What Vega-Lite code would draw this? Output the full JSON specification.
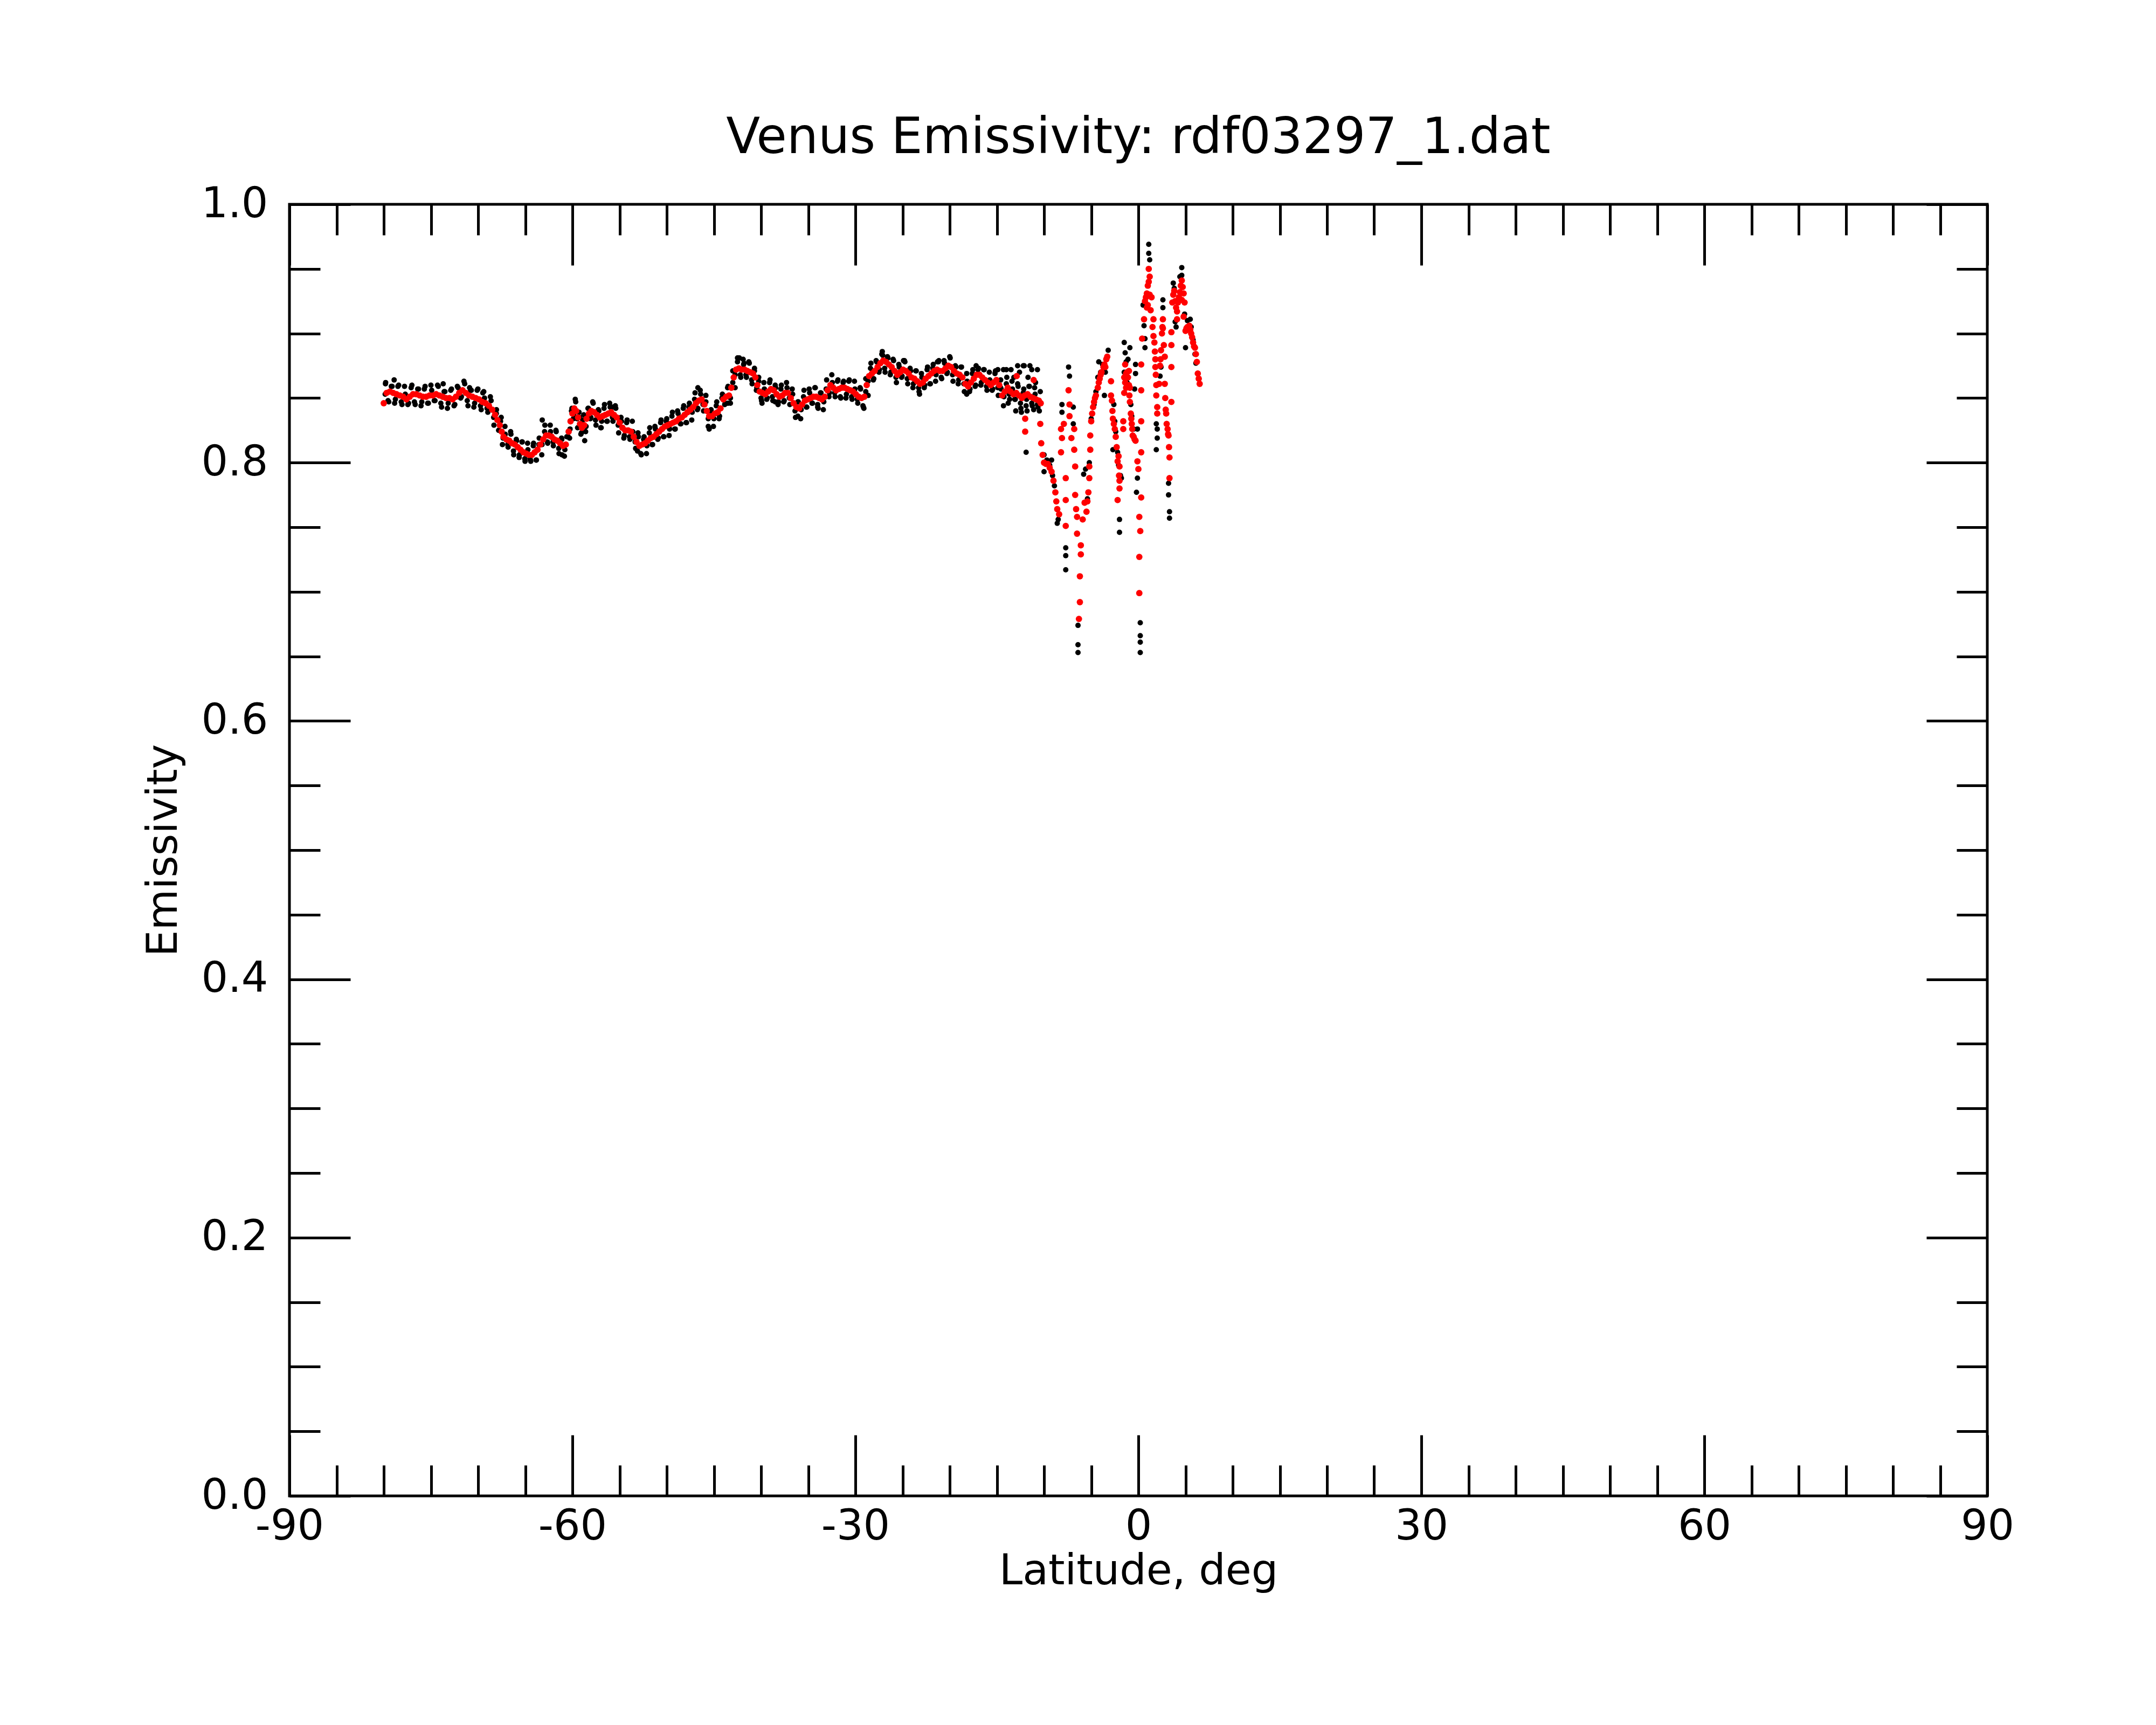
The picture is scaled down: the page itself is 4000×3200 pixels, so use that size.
{
  "$schema": "https://vega.github.io/schema/vega-lite/v6.json",
  "autosize": {"type": "none"},
  "padding": {"left": 537, "top": 379, "right": 313, "bottom": 425},
  "width": 3150,
  "height": 2396,
  "background": "white",
  "title": {
    "text": "Venus Emissivity: rdf03297_1.dat",
    "font": "DejaVu Sans",
    "fontSize": 92,
    "fontWeight": "normal",
    "color": "black",
    "anchor": "middle",
    "baseline": "alphabetic",
    "offset": -36
  },
  "config": {
    "view": {"stroke": "black", "strokeWidth": 5},
    "axis": {"grid": false, "domain": false, "tickColor": "black", "tickWidth": 5, "labelColor": "black", "titleColor": "black"}
  },
  "datasets": {
    "raw": [
      {"lat": -79.85, "em": 0.853}, {"lat": -79.55, "em": 0.848}, {"lat": -79.2, "em": 0.859}, {"lat": -78.85, "em": 0.846},
      {"lat": -78.5, "em": 0.859}, {"lat": -78.15, "em": 0.847}, {"lat": -77.8, "em": 0.859}, {"lat": -77.45, "em": 0.845},
      {"lat": -77.1, "em": 0.858}, {"lat": -76.75, "em": 0.847}, {"lat": -76.4, "em": 0.857}, {"lat": -76.05, "em": 0.844},
      {"lat": -75.7, "em": 0.857}, {"lat": -75.35, "em": 0.846}, {"lat": -75.0, "em": 0.86}, {"lat": -74.65, "em": 0.848},
      {"lat": -74.3, "em": 0.86}, {"lat": -73.95, "em": 0.846}, {"lat": -73.6, "em": 0.855}, {"lat": -73.25, "em": 0.842},
      {"lat": -72.9, "em": 0.856}, {"lat": -72.55, "em": 0.844}, {"lat": -72.2, "em": 0.859}, {"lat": -71.85, "em": 0.85},
      {"lat": -71.5, "em": 0.863}, {"lat": -71.15, "em": 0.848}, {"lat": -70.8, "em": 0.856}, {"lat": -70.45, "em": 0.843},
      {"lat": -70.1, "em": 0.856}, {"lat": -69.75, "em": 0.844}, {"lat": -69.4, "em": 0.855}, {"lat": -69.05, "em": 0.842},
      {"lat": -68.7, "em": 0.851}, {"lat": -68.35, "em": 0.835}, {"lat": -68.05, "em": 0.841}, {"lat": -67.8, "em": 0.825},
      {"lat": -67.55, "em": 0.835}, {"lat": -67.35, "em": 0.819}, {"lat": -67.15, "em": 0.828}, {"lat": -66.85, "em": 0.814},
      {"lat": -66.55, "em": 0.824}, {"lat": -66.25, "em": 0.809}, {"lat": -65.95, "em": 0.818}, {"lat": -65.65, "em": 0.804},
      {"lat": -65.35, "em": 0.816}, {"lat": -65.05, "em": 0.803}, {"lat": -64.75, "em": 0.815}, {"lat": -64.45, "em": 0.802},
      {"lat": -64.15, "em": 0.813}, {"lat": -63.85, "em": 0.802}, {"lat": -63.55, "em": 0.814}, {"lat": -63.25, "em": 0.806},
      {"lat": -62.95, "em": 0.824}, {"lat": -62.65, "em": 0.816}, {"lat": -62.35, "em": 0.829}, {"lat": -62.05, "em": 0.816},
      {"lat": -61.75, "em": 0.825}, {"lat": -61.45, "em": 0.811}, {"lat": -61.15, "em": 0.819}, {"lat": -60.85, "em": 0.805},
      {"lat": -60.6, "em": 0.82}, {"lat": -60.3, "em": 0.819}, {"lat": -60.1, "em": 0.84}, {"lat": -59.9, "em": 0.834},
      {"lat": -59.7, "em": 0.849}, {"lat": -59.5, "em": 0.834}, {"lat": -59.3, "em": 0.839}, {"lat": -59.1, "em": 0.822},
      {"lat": -58.9, "em": 0.833}, {"lat": -58.6, "em": 0.824}, {"lat": -58.35, "em": 0.842}, {"lat": -58.1, "em": 0.834},
      {"lat": -57.85, "em": 0.847}, {"lat": -57.55, "em": 0.833}, {"lat": -57.25, "em": 0.841}, {"lat": -56.95, "em": 0.827},
      {"lat": -56.65, "em": 0.842}, {"lat": -56.35, "em": 0.832}, {"lat": -56.05, "em": 0.846}, {"lat": -55.75, "em": 0.835},
      {"lat": -55.45, "em": 0.844}, {"lat": -55.15, "em": 0.829}, {"lat": -54.85, "em": 0.835}, {"lat": -54.55, "em": 0.819},
      {"lat": -54.25, "em": 0.831}, {"lat": -53.95, "em": 0.82}, {"lat": -53.65, "em": 0.832}, {"lat": -53.35, "em": 0.816},
      {"lat": -53.05, "em": 0.823}, {"lat": -52.75, "em": 0.807}, {"lat": -52.45, "em": 0.818}, {"lat": -52.15, "em": 0.807},
      {"lat": -51.85, "em": 0.823}, {"lat": -51.55, "em": 0.814}, {"lat": -51.25, "em": 0.828}, {"lat": -50.95, "em": 0.818},
      {"lat": -50.65, "em": 0.831}, {"lat": -50.35, "em": 0.82}, {"lat": -50.05, "em": 0.832}, {"lat": -49.75, "em": 0.821},
      {"lat": -49.45, "em": 0.836}, {"lat": -49.15, "em": 0.826}, {"lat": -48.85, "em": 0.84}, {"lat": -48.55, "em": 0.83},
      {"lat": -48.25, "em": 0.842}, {"lat": -47.95, "em": 0.831}, {"lat": -47.65, "em": 0.843}, {"lat": -47.35, "em": 0.833},
      {"lat": -47.05, "em": 0.849}, {"lat": -46.75, "em": 0.841}, {"lat": -46.45, "em": 0.856}, {"lat": -46.15, "em": 0.845},
      {"lat": -45.85, "em": 0.852}, {"lat": -45.6, "em": 0.834}, {"lat": -45.35, "em": 0.84}, {"lat": -45.05, "em": 0.828},
      {"lat": -44.75, "em": 0.844}, {"lat": -44.45, "em": 0.834}, {"lat": -44.15, "em": 0.85}, {"lat": -43.85, "em": 0.845},
      {"lat": -43.55, "em": 0.858}, {"lat": -43.25, "em": 0.846}, {"lat": -43.0, "em": 0.862}, {"lat": -42.75, "em": 0.858},
      {"lat": -42.5, "em": 0.878}, {"lat": -42.2, "em": 0.868}, {"lat": -41.9, "em": 0.88}, {"lat": -41.6, "em": 0.868},
      {"lat": -41.3, "em": 0.878}, {"lat": -41.0, "em": 0.864}, {"lat": -40.7, "em": 0.873}, {"lat": -40.45, "em": 0.858},
      {"lat": -40.25, "em": 0.866}, {"lat": -40.0, "em": 0.85}, {"lat": -39.7, "em": 0.862}, {"lat": -39.4, "em": 0.849},
      {"lat": -39.1, "em": 0.862}, {"lat": -38.8, "em": 0.851}, {"lat": -38.5, "em": 0.86}, {"lat": -38.2, "em": 0.845},
      {"lat": -37.9, "em": 0.857}, {"lat": -37.6, "em": 0.847}, {"lat": -37.3, "em": 0.862}, {"lat": -37.0, "em": 0.85},
      {"lat": -36.7, "em": 0.857}, {"lat": -36.4, "em": 0.84}, {"lat": -36.1, "em": 0.847}, {"lat": -35.8, "em": 0.834},
      {"lat": -35.5, "em": 0.851}, {"lat": -35.2, "em": 0.843}, {"lat": -34.9, "em": 0.857}, {"lat": -34.6, "em": 0.846},
      {"lat": -34.3, "em": 0.858}, {"lat": -34.0, "em": 0.845}, {"lat": -33.7, "em": 0.854}, {"lat": -33.4, "em": 0.841},
      {"lat": -33.1, "em": 0.857}, {"lat": -32.8, "em": 0.851}, {"lat": -32.5, "em": 0.868}, {"lat": -32.2, "em": 0.854},
      {"lat": -31.9, "em": 0.863}, {"lat": -31.6, "em": 0.851}, {"lat": -31.3, "em": 0.862}, {"lat": -31.0, "em": 0.85},
      {"lat": -30.7, "em": 0.863}, {"lat": -30.4, "em": 0.851}, {"lat": -30.1, "em": 0.863}, {"lat": -29.8, "em": 0.849},
      {"lat": -29.5, "em": 0.858}, {"lat": -29.2, "em": 0.844}, {"lat": -28.9, "em": 0.855}, {"lat": -28.65, "em": 0.852},
      {"lat": -28.4, "em": 0.873}, {"lat": -28.1, "em": 0.864}, {"lat": -27.8, "em": 0.879}, {"lat": -27.5, "em": 0.87},
      {"lat": -27.2, "em": 0.884}, {"lat": -26.9, "em": 0.873}, {"lat": -26.6, "em": 0.882}, {"lat": -26.3, "em": 0.868},
      {"lat": -26.0, "em": 0.88}, {"lat": -25.7, "em": 0.866}, {"lat": -25.4, "em": 0.876}, {"lat": -25.1, "em": 0.866},
      {"lat": -24.8, "em": 0.879}, {"lat": -24.5, "em": 0.865}, {"lat": -24.2, "em": 0.873}, {"lat": -23.9, "em": 0.858},
      {"lat": -23.6, "em": 0.871}, {"lat": -23.3, "em": 0.858}, {"lat": -23.0, "em": 0.869}, {"lat": -22.7, "em": 0.858},
      {"lat": -22.4, "em": 0.872}, {"lat": -22.1, "em": 0.861}, {"lat": -21.8, "em": 0.873}, {"lat": -21.5, "em": 0.863},
      {"lat": -21.2, "em": 0.878}, {"lat": -20.9, "em": 0.866}, {"lat": -20.6, "em": 0.879}, {"lat": -20.3, "em": 0.869},
      {"lat": -20.0, "em": 0.882}, {"lat": -19.7, "em": 0.868}, {"lat": -19.4, "em": 0.875}, {"lat": -19.1, "em": 0.861},
      {"lat": -18.8, "em": 0.874}, {"lat": -18.5, "em": 0.861}, {"lat": -18.2, "em": 0.869}, {"lat": -17.9, "em": 0.855},
      {"lat": -17.6, "em": 0.869}, {"lat": -17.3, "em": 0.859}, {"lat": -17.0, "em": 0.872}, {"lat": -16.7, "em": 0.86},
      {"lat": -16.4, "em": 0.872}, {"lat": -16.1, "em": 0.859}, {"lat": -15.8, "em": 0.87}, {"lat": -15.5, "em": 0.856},
      {"lat": -15.2, "em": 0.869}, {"lat": -14.9, "em": 0.858}, {"lat": -14.6, "em": 0.864}, {"lat": -14.3, "em": 0.844},
      {"lat": -14.0, "em": 0.861}, {"lat": -13.7, "em": 0.853}, {"lat": -13.4, "em": 0.863}, {"lat": -13.1, "em": 0.849},
      {"lat": -12.8, "em": 0.861}, {"lat": -12.5, "em": 0.846}, {"lat": -12.2, "em": 0.854}, {"lat": -11.9, "em": 0.844},
      {"lat": -11.6, "em": 0.859}, {"lat": -11.3, "em": 0.846}, {"lat": -11.0, "em": 0.858}, {"lat": -10.7, "em": 0.845},
      {"lat": -10.4, "em": 0.855},
      {"lat": -79.82, "em": 0.861}, {"lat": -79.47, "em": 0.847}, {"lat": -79.12, "em": 0.859}, {"lat": -78.77, "em": 0.849},
      {"lat": -78.42, "em": 0.86}, {"lat": -78.07, "em": 0.845}, {"lat": -77.72, "em": 0.853}, {"lat": -77.37, "em": 0.846},
      {"lat": -77.02, "em": 0.86}, {"lat": -76.67, "em": 0.845}, {"lat": -76.32, "em": 0.857}, {"lat": -75.97, "em": 0.847},
      {"lat": -75.62, "em": 0.859}, {"lat": -75.27, "em": 0.846}, {"lat": -74.92, "em": 0.856}, {"lat": -74.57, "em": 0.848},
      {"lat": -74.22, "em": 0.859}, {"lat": -73.87, "em": 0.843}, {"lat": -73.52, "em": 0.855}, {"lat": -73.17, "em": 0.846},
      {"lat": -72.82, "em": 0.857}, {"lat": -72.47, "em": 0.845}, {"lat": -72.12, "em": 0.858}, {"lat": -71.77, "em": 0.851},
      {"lat": -71.42, "em": 0.861}, {"lat": -71.07, "em": 0.844}, {"lat": -70.72, "em": 0.856}, {"lat": -70.37, "em": 0.846},
      {"lat": -70.02, "em": 0.857}, {"lat": -69.67, "em": 0.841}, {"lat": -69.32, "em": 0.85}, {"lat": -68.97, "em": 0.839},
      {"lat": -68.62, "em": 0.848}, {"lat": -68.32, "em": 0.829}, {"lat": -68.07, "em": 0.838}, {"lat": -67.82, "em": 0.825},
      {"lat": -67.62, "em": 0.832}, {"lat": -67.42, "em": 0.814}, {"lat": -67.12, "em": 0.822}, {"lat": -66.82, "em": 0.812},
      {"lat": -66.52, "em": 0.822}, {"lat": -66.22, "em": 0.806}, {"lat": -65.92, "em": 0.817}, {"lat": -65.62, "em": 0.806},
      {"lat": -65.32, "em": 0.816}, {"lat": -65.02, "em": 0.801}, {"lat": -64.72, "em": 0.81}, {"lat": -64.42, "em": 0.801},
      {"lat": -64.12, "em": 0.815}, {"lat": -63.82, "em": 0.802}, {"lat": -63.52, "em": 0.819}, {"lat": -63.22, "em": 0.814},
      {"lat": -62.92, "em": 0.829}, {"lat": -62.62, "em": 0.815}, {"lat": -62.32, "em": 0.824}, {"lat": -62.02, "em": 0.813},
      {"lat": -61.72, "em": 0.824}, {"lat": -61.42, "em": 0.807}, {"lat": -61.12, "em": 0.818}, {"lat": -60.8, "em": 0.81},
      {"lat": -60.45, "em": 0.82}, {"lat": -60.25, "em": 0.826}, {"lat": -60.05, "em": 0.842}, {"lat": -59.85, "em": 0.837},
      {"lat": -59.65, "em": 0.847}, {"lat": -59.45, "em": 0.827}, {"lat": -59.25, "em": 0.835}, {"lat": -59.05, "em": 0.823},
      {"lat": -58.8, "em": 0.837}, {"lat": -58.55, "em": 0.828}, {"lat": -58.3, "em": 0.842}, {"lat": -58.05, "em": 0.835},
      {"lat": -57.8, "em": 0.846}, {"lat": -57.5, "em": 0.829}, {"lat": -57.2, "em": 0.84}, {"lat": -56.9, "em": 0.832},
      {"lat": -56.6, "em": 0.845}, {"lat": -56.3, "em": 0.832}, {"lat": -56.0, "em": 0.843}, {"lat": -55.7, "em": 0.832},
      {"lat": -55.4, "em": 0.842}, {"lat": -55.1, "em": 0.823}, {"lat": -54.8, "em": 0.832}, {"lat": -54.5, "em": 0.821},
      {"lat": -54.2, "em": 0.833}, {"lat": -53.9, "em": 0.818}, {"lat": -53.6, "em": 0.824}, {"lat": -53.3, "em": 0.811},
      {"lat": -53.0, "em": 0.82}, {"lat": -52.7, "em": 0.806}, {"lat": -52.4, "em": 0.82}, {"lat": -52.1, "em": 0.813},
      {"lat": -51.8, "em": 0.827}, {"lat": -51.5, "em": 0.814}, {"lat": -51.2, "em": 0.826}, {"lat": -50.9, "em": 0.819},
      {"lat": -50.6, "em": 0.833}, {"lat": -50.3, "em": 0.82}, {"lat": -50.0, "em": 0.834}, {"lat": -49.7, "em": 0.826},
      {"lat": -49.4, "em": 0.839}, {"lat": -49.1, "em": 0.826}, {"lat": -48.8, "em": 0.838}, {"lat": -48.5, "em": 0.83},
      {"lat": -48.2, "em": 0.844}, {"lat": -47.9, "em": 0.831}, {"lat": -47.6, "em": 0.846}, {"lat": -47.3, "em": 0.839},
      {"lat": -47.0, "em": 0.854}, {"lat": -46.7, "em": 0.842}, {"lat": -46.4, "em": 0.853}, {"lat": -46.1, "em": 0.84},
      {"lat": -45.85, "em": 0.847}, {"lat": -45.6, "em": 0.828}, {"lat": -45.3, "em": 0.841}, {"lat": -45.0, "em": 0.834},
      {"lat": -44.7, "em": 0.847}, {"lat": -44.4, "em": 0.836}, {"lat": -44.1, "em": 0.853}, {"lat": -43.8, "em": 0.846},
      {"lat": -43.5, "em": 0.859}, {"lat": -43.25, "em": 0.85}, {"lat": -43.0, "em": 0.871}, {"lat": -42.75, "em": 0.868},
      {"lat": -42.45, "em": 0.881}, {"lat": -42.15, "em": 0.866}, {"lat": -41.85, "em": 0.876}, {"lat": -41.55, "em": 0.866},
      {"lat": -41.25, "em": 0.877}, {"lat": -40.95, "em": 0.861}, {"lat": -40.7, "em": 0.871}, {"lat": -40.5, "em": 0.856},
      {"lat": -40.25, "em": 0.863}, {"lat": -39.95, "em": 0.848}, {"lat": -39.65, "em": 0.857}, {"lat": -39.35, "em": 0.85},
      {"lat": -39.05, "em": 0.864}, {"lat": -38.75, "em": 0.848}, {"lat": -38.45, "em": 0.858}, {"lat": -38.15, "em": 0.847},
      {"lat": -37.85, "em": 0.86}, {"lat": -37.55, "em": 0.848}, {"lat": -37.25, "em": 0.858}, {"lat": -36.95, "em": 0.845},
      {"lat": -36.65, "em": 0.853}, {"lat": -36.35, "em": 0.835}, {"lat": -36.05, "em": 0.847}, {"lat": -35.75, "em": 0.841},
      {"lat": -35.45, "em": 0.856}, {"lat": -35.15, "em": 0.843}, {"lat": -34.85, "em": 0.854}, {"lat": -34.55, "em": 0.846},
      {"lat": -34.25, "em": 0.858}, {"lat": -33.95, "em": 0.842}, {"lat": -33.65, "em": 0.854}, {"lat": -33.35, "em": 0.847},
      {"lat": -33.05, "em": 0.864}, {"lat": -32.75, "em": 0.854}, {"lat": -32.45, "em": 0.862}, {"lat": -32.15, "em": 0.851},
      {"lat": -31.85, "em": 0.864}, {"lat": -31.55, "em": 0.85}, {"lat": -31.25, "em": 0.863}, {"lat": -30.95, "em": 0.853},
      {"lat": -30.65, "em": 0.864}, {"lat": -30.35, "em": 0.849}, {"lat": -30.05, "em": 0.857}, {"lat": -29.75, "em": 0.846},
      {"lat": -29.45, "em": 0.857}, {"lat": -29.15, "em": 0.843}, {"lat": -28.9, "em": 0.865}, {"lat": -28.65, "em": 0.863},
      {"lat": -28.35, "em": 0.877}, {"lat": -28.05, "em": 0.865}, {"lat": -27.75, "em": 0.878}, {"lat": -27.45, "em": 0.872},
      {"lat": -27.15, "em": 0.886}, {"lat": -26.85, "em": 0.87}, {"lat": -26.55, "em": 0.881}, {"lat": -26.25, "em": 0.87},
      {"lat": -25.95, "em": 0.879}, {"lat": -25.65, "em": 0.862}, {"lat": -25.35, "em": 0.874}, {"lat": -25.05, "em": 0.867},
      {"lat": -24.75, "em": 0.878}, {"lat": -24.45, "em": 0.861}, {"lat": -24.15, "em": 0.871}, {"lat": -23.85, "em": 0.861},
      {"lat": -23.55, "em": 0.871}, {"lat": -23.25, "em": 0.855}, {"lat": -22.95, "em": 0.866}, {"lat": -22.65, "em": 0.86},
      {"lat": -22.35, "em": 0.874}, {"lat": -22.05, "em": 0.861}, {"lat": -21.75, "em": 0.876}, {"lat": -21.45, "em": 0.868},
      {"lat": -21.15, "em": 0.879}, {"lat": -20.85, "em": 0.865}, {"lat": -20.55, "em": 0.877}, {"lat": -20.25, "em": 0.87},
      {"lat": -19.95, "em": 0.881}, {"lat": -19.65, "em": 0.863}, {"lat": -19.35, "em": 0.874}, {"lat": -19.05, "em": 0.864},
      {"lat": -18.75, "em": 0.874}, {"lat": -18.45, "em": 0.855}, {"lat": -18.15, "em": 0.863}, {"lat": -17.85, "em": 0.857},
      {"lat": -17.55, "em": 0.872}, {"lat": -17.25, "em": 0.86}, {"lat": -16.95, "em": 0.873}, {"lat": -16.65, "em": 0.862},
      {"lat": -16.35, "em": 0.872}, {"lat": -16.05, "em": 0.856}, {"lat": -15.75, "em": 0.864}, {"lat": -15.45, "em": 0.857},
      {"lat": -15.15, "em": 0.871}, {"lat": -14.85, "em": 0.852}, {"lat": -14.55, "em": 0.857}, {"lat": -14.25, "em": 0.851},
      {"lat": -13.95, "em": 0.866}, {"lat": -13.65, "em": 0.849}, {"lat": -13.35, "em": 0.857}, {"lat": -13.05, "em": 0.849},
      {"lat": -12.75, "em": 0.859}, {"lat": -12.45, "em": 0.842}, {"lat": -12.15, "em": 0.857}, {"lat": -11.85, "em": 0.849},
      {"lat": -11.55, "em": 0.859}, {"lat": -11.25, "em": 0.844}, {"lat": -10.95, "em": 0.853}, {"lat": -10.65, "em": 0.843},
      {"lat": -79.8, "em": 0.862}, {"lat": -78.9, "em": 0.864}, {"lat": -73.7, "em": 0.861}, {"lat": -70.9, "em": 0.858},
      {"lat": -69.5, "em": 0.854}, {"lat": -63.2, "em": 0.833}, {"lat": -64.5, "em": 0.803}, {"lat": -61.1, "em": 0.806},
      {"lat": -58.7, "em": 0.817}, {"lat": -57.0, "em": 0.827}, {"lat": -55.8, "em": 0.843}, {"lat": -53.1, "em": 0.809},
      {"lat": -46.7, "em": 0.858}, {"lat": -45.5, "em": 0.826}, {"lat": -42.5, "em": 0.881}, {"lat": -43.5, "em": 0.846},
      {"lat": -42.3, "em": 0.881}, {"lat": -41.8, "em": 0.877}, {"lat": -39.9, "em": 0.846}, {"lat": -38.5, "em": 0.847},
      {"lat": -36.1, "em": 0.836}, {"lat": -34.0, "em": 0.843}, {"lat": -29.1, "em": 0.842}, {"lat": -27.1, "em": 0.883},
      {"lat": -24.9, "em": 0.879}, {"lat": -23.2, "em": 0.853}, {"lat": -21.3, "em": 0.878}, {"lat": -18.2, "em": 0.853},
      {"lat": -17.2, "em": 0.875}, {"lat": -14.9, "em": 0.872}, {"lat": -14.0, "em": 0.872}, {"lat": -13.0, "em": 0.84},
      {"lat": -11.8, "em": 0.84}, {"lat": -12.8, "em": 0.875}, {"lat": -12.1, "em": 0.875}, {"lat": -11.3, "em": 0.872},
      {"lat": -14.3, "em": 0.872}, {"lat": -13.5, "em": 0.872}, {"lat": -12.2, "em": 0.875}, {"lat": -11.5, "em": 0.875},
      {"lat": -10.7, "em": 0.872}, {"lat": -12.4, "em": 0.839}, {"lat": -11.9, "em": 0.808}, {"lat": -11.1, "em": 0.841},
      {"lat": -14.6, "em": 0.858}, {"lat": -13.8, "em": 0.846}, {"lat": -13.2, "em": 0.866}, {"lat": -12.6, "em": 0.87},
      {"lat": -11.7, "em": 0.866}, {"lat": -10.9, "em": 0.862}, {"lat": -10.5, "em": 0.84},
      {"lat": -10.0, "em": 0.793}, {"lat": -9.2, "em": 0.802}, {"lat": -8.6, "em": 0.753}, {"lat": -8.1, "em": 0.845},
      {"lat": -8.1, "em": 0.839}, {"lat": -7.7, "em": 0.734}, {"lat": -7.7, "em": 0.728}, {"lat": -7.7, "em": 0.717},
      {"lat": -7.4, "em": 0.874}, {"lat": -7.3, "em": 0.867}, {"lat": -6.9, "em": 0.843}, {"lat": -6.9, "em": 0.83},
      {"lat": -6.4, "em": 0.674}, {"lat": -6.4, "em": 0.659}, {"lat": -6.4, "em": 0.653}, {"lat": -5.6, "em": 0.795},
      {"lat": -5.8, "em": 0.791}, {"lat": -5.5, "em": 0.762}, {"lat": -4.2, "em": 0.878}, {"lat": -3.6, "em": 0.852},
      {"lat": -3.2, "em": 0.887}, {"lat": -2.6, "em": 0.845}, {"lat": -2.7, "em": 0.81}, {"lat": -1.8, "em": 0.788},
      {"lat": -2.0, "em": 0.756}, {"lat": -2.0, "em": 0.746}, {"lat": -1.5, "em": 0.893}, {"lat": -0.9, "em": 0.889},
      {"lat": -0.3, "em": 0.876}, {"lat": -0.3, "em": 0.869}, {"lat": -0.4, "em": 0.857}, {"lat": -0.1, "em": 0.826},
      {"lat": -0.1, "em": 0.788}, {"lat": -0.2, "em": 0.777}, {"lat": 0.2, "em": 0.676}, {"lat": 0.2, "em": 0.666},
      {"lat": 0.2, "em": 0.661}, {"lat": 0.2, "em": 0.653}, {"lat": 1.1, "em": 0.969}, {"lat": 1.1, "em": 0.962},
      {"lat": 1.2, "em": 0.957}, {"lat": 0.5, "em": 0.922}, {"lat": 0.6, "em": 0.906}, {"lat": 0.7, "em": 0.896},
      {"lat": 0.7, "em": 0.889}, {"lat": 1.9, "em": 0.83}, {"lat": 2.0, "em": 0.826}, {"lat": 2.0, "em": 0.819},
      {"lat": 1.9, "em": 0.81}, {"lat": 2.4, "em": 0.874}, {"lat": 2.3, "em": 0.867}, {"lat": 2.6, "em": 0.926},
      {"lat": 2.6, "em": 0.92}, {"lat": 3.7, "em": 0.939}, {"lat": 3.9, "em": 0.909}, {"lat": 3.2, "em": 0.784},
      {"lat": 3.2, "em": 0.775}, {"lat": 3.3, "em": 0.762}, {"lat": 3.3, "em": 0.757}, {"lat": 4.6, "em": 0.951},
      {"lat": 5.0, "em": 0.889}, {"lat": 5.5, "em": 0.911},
      {"lat": -10.0, "em": 0.806}, {"lat": -9.7, "em": 0.802}, {"lat": -9.4, "em": 0.798}, {"lat": -9.1, "em": 0.79},
      {"lat": -8.9, "em": 0.782}, {"lat": -8.7, "em": 0.77}, {"lat": -8.5, "em": 0.756},
      {"lat": -5.4, "em": 0.772}, {"lat": -5.2, "em": 0.8}, {"lat": -5.0, "em": 0.834}, {"lat": -4.7, "em": 0.845},
      {"lat": -4.5, "em": 0.855}, {"lat": -4.3, "em": 0.866}, {"lat": -4.0, "em": 0.87}, {"lat": -3.8, "em": 0.876},
      {"lat": -3.5, "em": 0.87}, {"lat": -2.5, "em": 0.832}, {"lat": -2.4, "em": 0.824}, {"lat": -2.2, "em": 0.808},
      {"lat": -2.1, "em": 0.798}, {"lat": -1.9, "em": 0.79}, {"lat": -1.4, "em": 0.885}, {"lat": -1.3, "em": 0.878},
      {"lat": -1.1, "em": 0.88}, {"lat": -1.5, "em": 0.87}, {"lat": -1.2, "em": 0.862}, {"lat": -0.8, "em": 0.845},
      {"lat": -0.7, "em": 0.836}, {"lat": -0.5, "em": 0.826}, {"lat": 3.8, "em": 0.935}, {"lat": 4.0, "em": 0.905},
      {"lat": 4.4, "em": 0.944}, {"lat": 4.6, "em": 0.945}, {"lat": 4.9, "em": 0.915}, {"lat": 5.2, "em": 0.91},
      {"lat": 5.6, "em": 0.905}, {"lat": 5.8, "em": 0.895}, {"lat": 6.0, "em": 0.884}, {"lat": 6.1, "em": 0.877}
    ],
    "smooth": [
      {"lat": -80.0, "em": 0.846}, {"lat": -79.7, "em": 0.854}, {"lat": -79.35, "em": 0.855}, {"lat": -79.0, "em": 0.854},
      {"lat": -78.65, "em": 0.853}, {"lat": -78.3, "em": 0.852}, {"lat": -77.95, "em": 0.851}, {"lat": -77.6, "em": 0.849},
      {"lat": -77.25, "em": 0.851}, {"lat": -76.9, "em": 0.853}, {"lat": -76.55, "em": 0.853}, {"lat": -76.2, "em": 0.852},
      {"lat": -75.85, "em": 0.851}, {"lat": -75.5, "em": 0.851}, {"lat": -75.15, "em": 0.852}, {"lat": -74.8, "em": 0.852},
      {"lat": -74.45, "em": 0.853}, {"lat": -74.1, "em": 0.852}, {"lat": -73.75, "em": 0.851}, {"lat": -73.4, "em": 0.85},
      {"lat": -73.05, "em": 0.85}, {"lat": -72.7, "em": 0.849}, {"lat": -72.35, "em": 0.851}, {"lat": -72.0, "em": 0.854},
      {"lat": -71.65, "em": 0.856}, {"lat": -71.3, "em": 0.854}, {"lat": -70.95, "em": 0.852}, {"lat": -70.6, "em": 0.851},
      {"lat": -70.25, "em": 0.85}, {"lat": -69.9, "em": 0.849}, {"lat": -69.55, "em": 0.847}, {"lat": -69.2, "em": 0.846},
      {"lat": -68.85, "em": 0.844}, {"lat": -68.5, "em": 0.841}, {"lat": -68.2, "em": 0.837}, {"lat": -67.95, "em": 0.833},
      {"lat": -67.7, "em": 0.829}, {"lat": -67.5, "em": 0.824}, {"lat": -67.3, "em": 0.82}, {"lat": -67.0, "em": 0.818},
      {"lat": -66.7, "em": 0.817}, {"lat": -66.4, "em": 0.815}, {"lat": -66.1, "em": 0.814}, {"lat": -65.8, "em": 0.812},
      {"lat": -65.5, "em": 0.81}, {"lat": -65.2, "em": 0.808}, {"lat": -64.9, "em": 0.807}, {"lat": -64.6, "em": 0.806},
      {"lat": -64.3, "em": 0.806}, {"lat": -64.0, "em": 0.808}, {"lat": -63.7, "em": 0.81}, {"lat": -63.4, "em": 0.814},
      {"lat": -63.1, "em": 0.818}, {"lat": -62.8, "em": 0.821}, {"lat": -62.5, "em": 0.821}, {"lat": -62.2, "em": 0.82},
      {"lat": -61.9, "em": 0.818}, {"lat": -61.6, "em": 0.817}, {"lat": -61.3, "em": 0.815}, {"lat": -61.0, "em": 0.813},
      {"lat": -60.7, "em": 0.814}, {"lat": -60.4, "em": 0.824}, {"lat": -60.2, "em": 0.832}, {"lat": -60.0, "em": 0.838},
      {"lat": -59.8, "em": 0.842}, {"lat": -59.6, "em": 0.84}, {"lat": -59.4, "em": 0.835}, {"lat": -59.2, "em": 0.83},
      {"lat": -59.0, "em": 0.827}, {"lat": -58.75, "em": 0.829}, {"lat": -58.5, "em": 0.834}, {"lat": -58.25, "em": 0.838},
      {"lat": -58.0, "em": 0.84}, {"lat": -57.7, "em": 0.839}, {"lat": -57.4, "em": 0.837}, {"lat": -57.1, "em": 0.835},
      {"lat": -56.8, "em": 0.836}, {"lat": -56.5, "em": 0.837}, {"lat": -56.2, "em": 0.838}, {"lat": -55.9, "em": 0.839},
      {"lat": -55.6, "em": 0.837}, {"lat": -55.3, "em": 0.835}, {"lat": -55.0, "em": 0.831}, {"lat": -54.7, "em": 0.827},
      {"lat": -54.4, "em": 0.825}, {"lat": -54.1, "em": 0.825}, {"lat": -53.8, "em": 0.824}, {"lat": -53.5, "em": 0.82},
      {"lat": -53.2, "em": 0.816}, {"lat": -52.9, "em": 0.813}, {"lat": -52.6, "em": 0.814}, {"lat": -52.3, "em": 0.815},
      {"lat": -52.0, "em": 0.817}, {"lat": -51.7, "em": 0.819}, {"lat": -51.4, "em": 0.82}, {"lat": -51.1, "em": 0.822},
      {"lat": -50.8, "em": 0.824}, {"lat": -50.5, "em": 0.826}, {"lat": -50.2, "em": 0.828}, {"lat": -49.9, "em": 0.829},
      {"lat": -49.6, "em": 0.83}, {"lat": -49.3, "em": 0.831}, {"lat": -49.0, "em": 0.832}, {"lat": -48.7, "em": 0.834},
      {"lat": -48.4, "em": 0.835}, {"lat": -48.1, "em": 0.837}, {"lat": -47.8, "em": 0.839}, {"lat": -47.5, "em": 0.841},
      {"lat": -47.2, "em": 0.843}, {"lat": -46.9, "em": 0.846}, {"lat": -46.6, "em": 0.848}, {"lat": -46.3, "em": 0.849},
      {"lat": -46.0, "em": 0.845}, {"lat": -45.75, "em": 0.84}, {"lat": -45.5, "em": 0.836}, {"lat": -45.2, "em": 0.836},
      {"lat": -44.9, "em": 0.838}, {"lat": -44.6, "em": 0.839}, {"lat": -44.3, "em": 0.842}, {"lat": -44.0, "em": 0.849},
      {"lat": -43.7, "em": 0.851}, {"lat": -43.4, "em": 0.852}, {"lat": -43.15, "em": 0.858}, {"lat": -42.9, "em": 0.866},
      {"lat": -42.65, "em": 0.872}, {"lat": -42.35, "em": 0.873}, {"lat": -42.05, "em": 0.872}, {"lat": -41.75, "em": 0.872},
      {"lat": -41.45, "em": 0.871}, {"lat": -41.15, "em": 0.87}, {"lat": -40.85, "em": 0.869}, {"lat": -40.6, "em": 0.866},
      {"lat": -40.4, "em": 0.86}, {"lat": -40.15, "em": 0.855}, {"lat": -39.85, "em": 0.854}, {"lat": -39.55, "em": 0.853},
      {"lat": -39.25, "em": 0.855}, {"lat": -38.95, "em": 0.857}, {"lat": -38.65, "em": 0.856}, {"lat": -38.35, "em": 0.853},
      {"lat": -38.05, "em": 0.851}, {"lat": -37.75, "em": 0.852}, {"lat": -37.45, "em": 0.854}, {"lat": -37.15, "em": 0.854},
      {"lat": -36.85, "em": 0.85}, {"lat": -36.55, "em": 0.846}, {"lat": -36.25, "em": 0.843}, {"lat": -35.95, "em": 0.842},
      {"lat": -35.65, "em": 0.845}, {"lat": -35.35, "em": 0.848}, {"lat": -35.05, "em": 0.849}, {"lat": -34.75, "em": 0.85},
      {"lat": -34.45, "em": 0.851}, {"lat": -34.15, "em": 0.851}, {"lat": -33.85, "em": 0.85}, {"lat": -33.55, "em": 0.849},
      {"lat": -33.25, "em": 0.851}, {"lat": -32.95, "em": 0.856}, {"lat": -32.65, "em": 0.86}, {"lat": -32.35, "em": 0.858},
      {"lat": -32.05, "em": 0.856}, {"lat": -31.75, "em": 0.857}, {"lat": -31.45, "em": 0.858}, {"lat": -31.15, "em": 0.858},
      {"lat": -30.85, "em": 0.857}, {"lat": -30.55, "em": 0.856}, {"lat": -30.25, "em": 0.855}, {"lat": -29.95, "em": 0.853},
      {"lat": -29.65, "em": 0.851}, {"lat": -29.35, "em": 0.85}, {"lat": -29.05, "em": 0.851}, {"lat": -28.8, "em": 0.86},
      {"lat": -28.55, "em": 0.867}, {"lat": -28.25, "em": 0.869}, {"lat": -27.95, "em": 0.871}, {"lat": -27.65, "em": 0.874},
      {"lat": -27.35, "em": 0.877}, {"lat": -27.05, "em": 0.879}, {"lat": -26.75, "em": 0.878}, {"lat": -26.45, "em": 0.876},
      {"lat": -26.15, "em": 0.874}, {"lat": -25.85, "em": 0.871}, {"lat": -25.55, "em": 0.868}, {"lat": -25.25, "em": 0.87},
      {"lat": -24.95, "em": 0.872}, {"lat": -24.65, "em": 0.871}, {"lat": -24.35, "em": 0.869}, {"lat": -24.05, "em": 0.866},
      {"lat": -23.75, "em": 0.865}, {"lat": -23.45, "em": 0.863}, {"lat": -23.15, "em": 0.861}, {"lat": -22.85, "em": 0.862},
      {"lat": -22.55, "em": 0.865}, {"lat": -22.25, "em": 0.867}, {"lat": -21.95, "em": 0.869}, {"lat": -21.65, "em": 0.871},
      {"lat": -21.35, "em": 0.872}, {"lat": -21.05, "em": 0.871}, {"lat": -20.75, "em": 0.871}, {"lat": -20.45, "em": 0.873},
      {"lat": -20.15, "em": 0.875}, {"lat": -19.85, "em": 0.874}, {"lat": -19.55, "em": 0.871}, {"lat": -19.25, "em": 0.869},
      {"lat": -18.95, "em": 0.868}, {"lat": -18.65, "em": 0.866}, {"lat": -18.35, "em": 0.861}, {"lat": -18.05, "em": 0.859},
      {"lat": -17.75, "em": 0.862}, {"lat": -17.45, "em": 0.865}, {"lat": -17.15, "em": 0.868}, {"lat": -16.85, "em": 0.868},
      {"lat": -16.55, "em": 0.866}, {"lat": -16.25, "em": 0.864}, {"lat": -15.95, "em": 0.862}, {"lat": -15.65, "em": 0.86},
      {"lat": -15.35, "em": 0.862}, {"lat": -15.05, "em": 0.864}, {"lat": -14.75, "em": 0.86}, {"lat": -14.45, "em": 0.852},
      {"lat": -14.15, "em": 0.855}, {"lat": -13.85, "em": 0.858}, {"lat": -13.55, "em": 0.855}, {"lat": -13.25, "em": 0.853},
      {"lat": -12.95, "em": 0.854}, {"lat": -12.65, "em": 0.852}, {"lat": -12.35, "em": 0.85}, {"lat": -12.05, "em": 0.852},
      {"lat": -11.75, "em": 0.853}, {"lat": -11.45, "em": 0.851}, {"lat": -11.15, "em": 0.85}, {"lat": -10.85, "em": 0.849},
      {"lat": -10.55, "em": 0.848}, {"lat": -10.35, "em": 0.846},
      {"lat": -12.0, "em": 0.834}, {"lat": -12.0, "em": 0.824}, {"lat": -12.9, "em": 0.867}, {"lat": -11.1, "em": 0.864},
      {"lat": -10.4, "em": 0.83}, {"lat": -10.3, "em": 0.815}, {"lat": -10.15, "em": 0.806}, {"lat": -10.0, "em": 0.8},
      {"lat": -9.8, "em": 0.799}, {"lat": -9.6, "em": 0.799}, {"lat": -9.4, "em": 0.796}, {"lat": -9.2, "em": 0.793},
      {"lat": -9.0, "em": 0.786}, {"lat": -8.8, "em": 0.777}, {"lat": -8.7, "em": 0.77}, {"lat": -8.6, "em": 0.764},
      {"lat": -8.4, "em": 0.76},
      {"lat": -8.2, "em": 0.808}, {"lat": -8.2, "em": 0.826}, {"lat": -8.1, "em": 0.819}, {"lat": -7.9, "em": 0.83},
      {"lat": -7.7, "em": 0.788}, {"lat": -7.7, "em": 0.751}, {"lat": -7.7, "em": 0.771}, {"lat": -7.4, "em": 0.856},
      {"lat": -7.3, "em": 0.845}, {"lat": -7.3, "em": 0.836}, {"lat": -7.1, "em": 0.819}, {"lat": -6.8, "em": 0.826},
      {"lat": -6.8, "em": 0.81}, {"lat": -6.7, "em": 0.797}, {"lat": -6.7, "em": 0.775}, {"lat": -6.6, "em": 0.764},
      {"lat": -6.5, "em": 0.758}, {"lat": -6.5, "em": 0.745}, {"lat": -6.1, "em": 0.736}, {"lat": -6.1, "em": 0.729},
      {"lat": -6.2, "em": 0.712}, {"lat": -6.2, "em": 0.692}, {"lat": -6.3, "em": 0.679}, {"lat": -5.9, "em": 0.756},
      {"lat": -5.7, "em": 0.769}, {"lat": -5.5, "em": 0.762}, {"lat": -5.4, "em": 0.77}, {"lat": -5.3, "em": 0.777},
      {"lat": -5.2, "em": 0.788}, {"lat": -5.2, "em": 0.797}, {"lat": -5.1, "em": 0.81}, {"lat": -5.1, "em": 0.821},
      {"lat": -5.0, "em": 0.832}, {"lat": -4.9, "em": 0.838}, {"lat": -4.8, "em": 0.843}, {"lat": -4.7, "em": 0.847},
      {"lat": -4.6, "em": 0.85}, {"lat": -4.5, "em": 0.852}, {"lat": -4.3, "em": 0.858}, {"lat": -4.2, "em": 0.862},
      {"lat": -4.1, "em": 0.865}, {"lat": -4.0, "em": 0.868}, {"lat": -3.9, "em": 0.87}, {"lat": -3.7, "em": 0.874},
      {"lat": -3.6, "em": 0.876}, {"lat": -3.5, "em": 0.874}, {"lat": -3.4, "em": 0.88}, {"lat": -3.3, "em": 0.882},
      {"lat": -2.9, "em": 0.863}, {"lat": -2.9, "em": 0.852}, {"lat": -2.8, "em": 0.848}, {"lat": -2.75, "em": 0.84},
      {"lat": -2.7, "em": 0.834}, {"lat": -2.6, "em": 0.83}, {"lat": -2.5, "em": 0.826}, {"lat": -2.4, "em": 0.82},
      {"lat": -2.3, "em": 0.812}, {"lat": -2.2, "em": 0.801}, {"lat": -2.1, "em": 0.805}, {"lat": -2.05, "em": 0.79},
      {"lat": -2.0, "em": 0.797}, {"lat": -2.0, "em": 0.786}, {"lat": -2.0, "em": 0.78}, {"lat": -2.2, "em": 0.771},
      {"lat": -1.6, "em": 0.826}, {"lat": -1.6, "em": 0.832}, {"lat": -1.5, "em": 0.854}, {"lat": -1.5, "em": 0.866},
      {"lat": -1.4, "em": 0.876}, {"lat": -1.4, "em": 0.862}, {"lat": -1.3, "em": 0.869}, {"lat": -1.3, "em": 0.858},
      {"lat": -1.2, "em": 0.87}, {"lat": -1.1, "em": 0.866}, {"lat": -1.0, "em": 0.871}, {"lat": -1.0, "em": 0.86},
      {"lat": -0.95, "em": 0.852}, {"lat": -0.9, "em": 0.858}, {"lat": -0.9, "em": 0.847}, {"lat": -0.8, "em": 0.838},
      {"lat": -0.75, "em": 0.834}, {"lat": -0.7, "em": 0.83}, {"lat": -0.65, "em": 0.826}, {"lat": -0.6, "em": 0.821},
      {"lat": -0.5, "em": 0.82}, {"lat": -0.4, "em": 0.818}, {"lat": -0.3, "em": 0.817}, {"lat": -0.1, "em": 0.801},
      {"lat": 0.0, "em": 0.795}, {"lat": 0.3, "em": 0.808}, {"lat": 0.3, "em": 0.832}, {"lat": 0.3, "em": 0.856},
      {"lat": 0.3, "em": 0.876}, {"lat": 0.3, "em": 0.773}, {"lat": 0.1, "em": 0.758}, {"lat": 0.2, "em": 0.747},
      {"lat": 0.1, "em": 0.727}, {"lat": 0.1, "em": 0.699}, {"lat": 0.4, "em": 0.896}, {"lat": 0.6, "em": 0.911},
      {"lat": 0.7, "em": 0.925}, {"lat": 0.8, "em": 0.928}, {"lat": 0.9, "em": 0.931}, {"lat": 0.9, "em": 0.92},
      {"lat": 1.0, "em": 0.937}, {"lat": 1.0, "em": 0.922}, {"lat": 1.1, "em": 0.95}, {"lat": 1.1, "em": 0.94},
      {"lat": 1.2, "em": 0.944}, {"lat": 1.2, "em": 0.93}, {"lat": 1.3, "em": 0.918}, {"lat": 1.4, "em": 0.928},
      {"lat": 1.5, "em": 0.905}, {"lat": 1.6, "em": 0.911}, {"lat": 1.6, "em": 0.898}, {"lat": 1.7, "em": 0.893},
      {"lat": 1.75, "em": 0.886}, {"lat": 1.8, "em": 0.88}, {"lat": 1.8, "em": 0.874}, {"lat": 1.85, "em": 0.868},
      {"lat": 1.9, "em": 0.86}, {"lat": 1.9, "em": 0.852}, {"lat": 2.0, "em": 0.843}, {"lat": 2.0, "em": 0.838},
      {"lat": 2.2, "em": 0.861}, {"lat": 2.3, "em": 0.875}, {"lat": 2.35, "em": 0.88}, {"lat": 2.4, "em": 0.887},
      {"lat": 2.5, "em": 0.9}, {"lat": 2.55, "em": 0.905}, {"lat": 2.6, "em": 0.911}, {"lat": 2.6, "em": 0.904},
      {"lat": 2.7, "em": 0.891}, {"lat": 2.8, "em": 0.882}, {"lat": 2.8, "em": 0.861}, {"lat": 2.85, "em": 0.85},
      {"lat": 2.9, "em": 0.841}, {"lat": 2.95, "em": 0.838}, {"lat": 3.0, "em": 0.83}, {"lat": 3.1, "em": 0.826},
      {"lat": 3.15, "em": 0.822}, {"lat": 3.2, "em": 0.821}, {"lat": 3.25, "em": 0.812}, {"lat": 3.3, "em": 0.804},
      {"lat": 3.3, "em": 0.788}, {"lat": 3.5, "em": 0.847}, {"lat": 3.5, "em": 0.874}, {"lat": 3.5, "em": 0.891},
      {"lat": 3.5, "em": 0.901}, {"lat": 3.6, "em": 0.924}, {"lat": 3.7, "em": 0.93}, {"lat": 3.8, "em": 0.933},
      {"lat": 3.9, "em": 0.925}, {"lat": 4.0, "em": 0.92}, {"lat": 4.1, "em": 0.917}, {"lat": 4.1, "em": 0.911},
      {"lat": 4.2, "em": 0.924}, {"lat": 4.3, "em": 0.928}, {"lat": 4.4, "em": 0.932}, {"lat": 4.5, "em": 0.937},
      {"lat": 4.6, "em": 0.941}, {"lat": 4.6, "em": 0.926}, {"lat": 4.7, "em": 0.936}, {"lat": 4.8, "em": 0.931},
      {"lat": 4.9, "em": 0.924}, {"lat": 4.8, "em": 0.913}, {"lat": 5.0, "em": 0.902}, {"lat": 5.1, "em": 0.904},
      {"lat": 5.2, "em": 0.905}, {"lat": 5.3, "em": 0.903}, {"lat": 5.4, "em": 0.906}, {"lat": 5.5, "em": 0.903},
      {"lat": 5.6, "em": 0.9}, {"lat": 5.7, "em": 0.897}, {"lat": 5.8, "em": 0.893}, {"lat": 5.9, "em": 0.89},
      {"lat": 6.0, "em": 0.889}, {"lat": 6.1, "em": 0.884}, {"lat": 6.2, "em": 0.878}, {"lat": 6.3, "em": 0.869},
      {"lat": 6.4, "em": 0.865}, {"lat": 6.5, "em": 0.861}
    ]
  },
  "resolve": {"axis": {"x": "independent", "y": "independent"}},
  "layer": [
    {
      "data": {"name": "raw"},
      "mark": {"type": "circle", "size": 100, "color": "black", "opacity": 1},
      "encoding": {
        "x": {
          "field": "lat", "type": "quantitative",
          "scale": {"domain": [-90, 90], "nice": false, "zero": false},
          "axis": {
            "orient": "bottom", "values": [-90, -60, -30, 0, 30, 60, 90],
            "tickSize": -113, "labelPadding": 131, "labelFont": "DejaVu Sans", "labelFontSize": 78,
            "labelExpr": "'' + datum.value", "labelFlush": false, "labelOverlap": false,
            "title": "Latitude, deg", "titleFont": "DejaVu Sans", "titleFontSize": 78, "titleFontWeight": "normal",
            "titleX": 1575, "titleY": 163, "titleBaseline": "alphabetic", "titleAlign": "center", "titleAnchor": null
          }
        },
        "y": {
          "field": "em", "type": "quantitative",
          "scale": {"domain": [0, 1], "nice": false, "zero": false},
          "axis": {
            "orient": "left", "values": [0, 0.2, 0.4, 0.6, 0.8, 1.0], "format": ".1f",
            "tickSize": -113, "labelPadding": 153, "labelFont": "DejaVu Sans", "labelFontSize": 78,
            "labelBaseline": "middle", "labelFlush": false, "labelOverlap": false,
            "title": "Emissivity", "titleFont": "DejaVu Sans", "titleFontSize": 78, "titleFontWeight": "normal",
            "titleAngle": -90, "titleX": -210, "titleY": 1198, "titleBaseline": "alphabetic", "titleAlign": "center", "titleAnchor": null
          }
        }
      }
    },
    {
      "data": {"name": "smooth"},
      "mark": {"type": "circle", "size": 140, "color": "#ff0000", "opacity": 1},
      "encoding": {
        "x": {
          "field": "lat", "type": "quantitative",
          "scale": {"domain": [-90, 90], "nice": false, "zero": false},
          "axis": {
            "orient": "bottom", "labels": false, "title": null, "tickSize": -57,
            "values": [-90, -85, -80, -75, -70, -65, -60, -55, -50, -45, -40, -35, -30, -25, -20, -15, -10, -5, 0, 5, 10, 15, 20, 25, 30, 35, 40, 45, 50, 55, 60, 65, 70, 75, 80, 85, 90]
          }
        },
        "y": {
          "field": "em", "type": "quantitative",
          "scale": {"domain": [0, 1], "nice": false, "zero": false},
          "axis": {
            "orient": "left", "labels": false, "title": null, "tickSize": -57,
            "values": [0, 0.05, 0.1, 0.15, 0.2, 0.25, 0.3, 0.35, 0.4, 0.45, 0.5, 0.55, 0.6, 0.65, 0.7, 0.75, 0.8, 0.85, 0.9, 0.95, 1.0]
          }
        }
      }
    },
    {
      "data": {"name": "smooth"},
      "mark": {"type": "circle", "size": 1, "opacity": 0},
      "encoding": {
        "x": {
          "field": "lat", "type": "quantitative",
          "scale": {"domain": [-90, 90], "nice": false, "zero": false},
          "axis": {"orient": "top", "labels": false, "title": null, "tickSize": -113, "values": [-90, -60, -30, 0, 30, 60, 90]}
        },
        "y": {
          "field": "em", "type": "quantitative",
          "scale": {"domain": [0, 1], "nice": false, "zero": false},
          "axis": {"orient": "right", "labels": false, "title": null, "tickSize": -113, "values": [0, 0.2, 0.4, 0.6, 0.8, 1.0]}
        }
      }
    },
    {
      "data": {"name": "smooth"},
      "mark": {"type": "circle", "size": 1, "opacity": 0},
      "encoding": {
        "x": {
          "field": "lat", "type": "quantitative",
          "scale": {"domain": [-90, 90], "nice": false, "zero": false},
          "axis": {
            "orient": "top", "labels": false, "title": null, "tickSize": -57,
            "values": [-90, -85, -80, -75, -70, -65, -60, -55, -50, -45, -40, -35, -30, -25, -20, -15, -10, -5, 0, 5, 10, 15, 20, 25, 30, 35, 40, 45, 50, 55, 60, 65, 70, 75, 80, 85, 90]
          }
        },
        "y": {
          "field": "em", "type": "quantitative",
          "scale": {"domain": [0, 1], "nice": false, "zero": false},
          "axis": {
            "orient": "right", "labels": false, "title": null, "tickSize": -57,
            "values": [0, 0.05, 0.1, 0.15, 0.2, 0.25, 0.3, 0.35, 0.4, 0.45, 0.5, 0.55, 0.6, 0.65, 0.7, 0.75, 0.8, 0.85, 0.9, 0.95, 1.0]
          }
        }
      }
    }
  ]
}
